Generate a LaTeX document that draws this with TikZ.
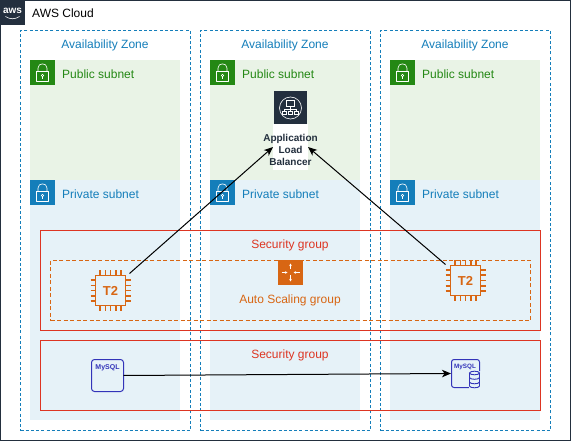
\documentclass[tikz,border=0pt]{standalone}
\usepackage{fontspec}
\setmainfont{Liberation Sans}
\usetikzlibrary{arrows.meta,calc}
\definecolor{awsdark}{HTML}{232F3E}
\definecolor{azblue}{HTML}{147EBA}
\definecolor{pubgreen}{HTML}{248814}
\definecolor{pubbg}{HTML}{E9F3E6}
\definecolor{privbg}{HTML}{E6F2F8}
\definecolor{sgred}{HTML}{DD3522}
\definecolor{asgorange}{HTML}{D86613}
\definecolor{dbblue}{HTML}{3334B9}
\tikzset{
  px/.style={font=\fontsize{12}{14}\selectfont},
  box/.style={inner sep=0pt,outer sep=0pt,anchor=north west},
  cloudbox/.style={box,draw=awsdark,line width=1pt,minimum width=570pt,minimum height=440pt},
  azbox/.style={box,draw=azblue,line width=1pt,dash pattern=on 3pt off 2.2pt,minimum width=170pt,minimum height=400pt},
  pubbox/.style={box,fill=pubbg,minimum width=150pt,minimum height=120pt},
  privbox/.style={box,fill=privbg,minimum width=150pt,minimum height=240pt},
  sgbox/.style={box,draw=sgred,line width=1pt},
  asgbox/.style={box,draw=asgorange,line width=1pt,dash pattern=on 4pt off 2.5pt,minimum width=480pt,minimum height=60pt},
  lbl/.style={px,inner sep=0pt},
  iconframe/.style={inner sep=0pt,outer sep=0pt,minimum size=25pt},
  conn/.style={draw=black,line width=1pt,-{Stealth[length=9pt,width=7.5pt,inset=2.5pt]}},
}
% lock icon: name, x, y, colour
\newcommand{\lockicon}[4]{%
  \node[iconframe,fill=#4,anchor=north west] (#1) at (#2,#3) {};
  \begin{scope}[shift={(#2,#3)}]
    \draw[white,line width=.6pt,line join=round] (6.5,11.5) rectangle (18.5,21.5);
    \draw[white,line width=.6pt] (8,11.5) -- (8,8) .. controls (8,2.5) and (17,2.5) .. (17,8) -- (17,11.5);
    \draw[white,line width=.55pt] (12.5,15.5) circle (1.3);
    \draw[white,line width=.55pt] (12.5,16.8) -- (12.5,19);
  \end{scope}}
% chip icon: name, x, y (centre)
\newcommand{\chipicon}[3]{%
  \node[draw=asgorange,line width=1.7pt,minimum size=30pt,inner sep=0pt,outer sep=0pt,text=asgorange,font=\bfseries\fontsize{13}{14}\selectfont] (#1) at (#2,#3) {T2};
  \begin{scope}[shift={(#2,#3)},draw=asgorange,line width=1.4pt]
    \foreach \d in {-10.6,-5.3,0,5.3,10.6}{
      \draw (\d,-20) -- (\d,-15.5);
      \draw (\d,15.5) -- (\d,20);
      \draw (-20,\d) -- (-15.5,\d);
      \draw (15.5,\d) -- (20,\d);
    }
  \end{scope}}
\begin{document}
\begin{tikzpicture}[x=1pt,y=-1pt,line cap=butt]
\useasboundingbox (0,0) rectangle (571,441);
\fill[white] (0,0) rectangle (571,441);
% cloud
\node[cloudbox] (cloud) at (.5,.5) {};
\node[iconframe,fill=awsdark,anchor=north west] (awslogo) at (0,0) {};
\node[white,font=\bfseries\fontsize{10}{10}\selectfont,inner sep=0pt] (awstext) at (12.5,10.5) {aws};
\draw[white,line width=.6pt] (5.5,16.5) .. controls (10,19.5) and (15,19.5) .. (19.5,16.5);
\node[lbl,anchor=west,text=black] (cloudlbl) at (32,13.5) {AWS Cloud};
% subnets
\node[pubbox] (pub1) at (30,60) {};
\node[pubbox] (pub2) at (210,60) {};
\node[pubbox] (pub3) at (390,60) {};
\node[privbox] (priv1) at (30,180) {};
\node[privbox] (priv2) at (210,180) {};
\node[privbox] (priv3) at (390,180) {};
% zones
\node[azbox] (az1) at (20.5,30.5) {};
\node[azbox] (az2) at (200.5,30.5) {};
\node[azbox] (az3) at (380.5,30.5) {};
\node[lbl,text=azblue] (azl1) at (105,45) {Availability Zone};
\node[lbl,text=azblue] (azl2) at (285,45) {Availability Zone};
\node[lbl,text=azblue] (azl3) at (465,45) {Availability Zone};
% lock icons and labels
\lockicon{lka}{30}{60}{pubgreen}
\lockicon{lkb}{210}{60}{pubgreen}
\lockicon{lkc}{390}{60}{pubgreen}
\lockicon{lkd}{30}{180}{azblue}
\lockicon{lke}{210}{180}{azblue}
\lockicon{lkf}{390}{180}{azblue}
\node[lbl,anchor=west,text=pubgreen] (pl1) at (62,74) {Public subnet};
\node[lbl,anchor=west,text=pubgreen] (pl2) at (242,74) {Public subnet};
\node[lbl,anchor=west,text=pubgreen] (pl3) at (422,74) {Public subnet};
\node[lbl,anchor=west,text=azblue] (vl1) at (62,194.5) {Private subnet};
\node[lbl,anchor=west,text=azblue] (vl2) at (242,194.5) {Private subnet};
\node[lbl,anchor=west,text=azblue] (vl3) at (422,194.5) {Private subnet};
% security groups
\node[sgbox,minimum width=500pt,minimum height=100pt] (sg1) at (40.5,230.5) {};
\node[sgbox,minimum width=500pt,minimum height=70pt] (sg2) at (40.5,340.5) {};
\node[lbl,text=sgred] (sgl1) at (290,245.2) {Security group};
\node[lbl,text=sgred] (sgl2) at (290,355.2) {Security group};
% auto scaling
\node[asgbox] (asg) at (50.5,260.5) {};
\node[iconframe,fill=asgorange,anchor=north west] (asgicon) at (278,260) {};
\begin{scope}[shift={(290.5,272.5)},draw=white,line width=.7pt,-{Stealth[length=2.5pt,width=2.5pt]}]
  \draw (0,-3) -- (0,-9);
  \draw (0,3) -- (0,9);
  \draw (-9,0) -- (-3,0);
  \draw (9,0) -- (3,0);
\end{scope}
\node[lbl,text=asgorange] (asgl) at (290,300) {Auto Scaling group};
% load balancer
\node[fill=white,inner sep=0pt,outer sep=0pt,minimum width=35pt,minimum height=46pt,anchor=north west] (albl) at (273,124) {};
\node[inner sep=0pt,align=center,text=awsdark,font=\bfseries\fontsize{10}{12}\selectfont] (albt) at (290.5,150) {Application\\Load\\Balancer};
\node[iconframe,fill=awsdark,minimum size=33pt,anchor=north west] (albicon) at (274,91.5) {};
\begin{scope}[shift={(290.5,108)},draw=white,line width=.6pt]
  \draw (0,0) circle (11);
  \draw (-4,-7.5) rectangle (4,-2);
  \draw (0,-2) -- (0,1) (-6,1) -- (6,1) (-6,1) -- (-6,3) (0,1) -- (0,3) (6,1) -- (6,3);
  \draw (-8,3) rectangle (-4,6.5) (-2,3) rectangle (2,6.5) (4,3) rectangle (8,6.5);
\end{scope}
% chips
\chipicon{t2a}{110.5}{290.5}
\chipicon{t2b}{465.5}{280.5}
% databases
\node[draw=dbblue,line width=1pt,rounded corners=3pt,inner sep=0pt,outer sep=0pt,minimum size=32pt,anchor=north west] (dba) at (91.5,359.5) {};
\node[inner sep=0pt,text=dbblue,font=\bfseries\fontsize{7}{8}\selectfont] (dbal) at (107.5,368) {MySQL};
\node[inner sep=0pt,outer sep=0pt,minimum width=29pt,minimum height=29pt,anchor=north west] (dbb) at (451,359) {};
\draw[dbblue,line width=1pt,rounded corners=2.5pt] (469,387.5) -- (451.5,387.5) -- (451.5,359.5) -- (479.5,359.5) -- (479.5,371);
\node[inner sep=0pt,text=dbblue,font=\bfseries\fontsize{6.3}{7}\selectfont] (dbbl) at (465,367) {MySQL};
\begin{scope}[draw=dbblue,line width=.9pt]
  \fill[privbg] (469,372) rectangle (480,388);
  \draw (469.5,373) -- (469.5,386) .. controls (469.5,388.4) and (479.5,388.4) .. (479.5,386) -- (479.5,373);
  \draw (474.5,373) ellipse (5 and 1.8);
  \draw (469.5,377.5) .. controls (469.5,379.9) and (479.5,379.9) .. (479.5,377.5);
  \draw (469.5,382) .. controls (469.5,384.4) and (479.5,384.4) .. (479.5,382);
\end{scope}
% connectors
\draw[conn] (t2a.north east) ++(4,-2) -- (albl.west);
\draw[conn] (t2b.north west) ++(-5,-1) -- (albl.east);
\draw[conn] (dba.east) -- (dbb.west);
\end{tikzpicture}
\end{document}
